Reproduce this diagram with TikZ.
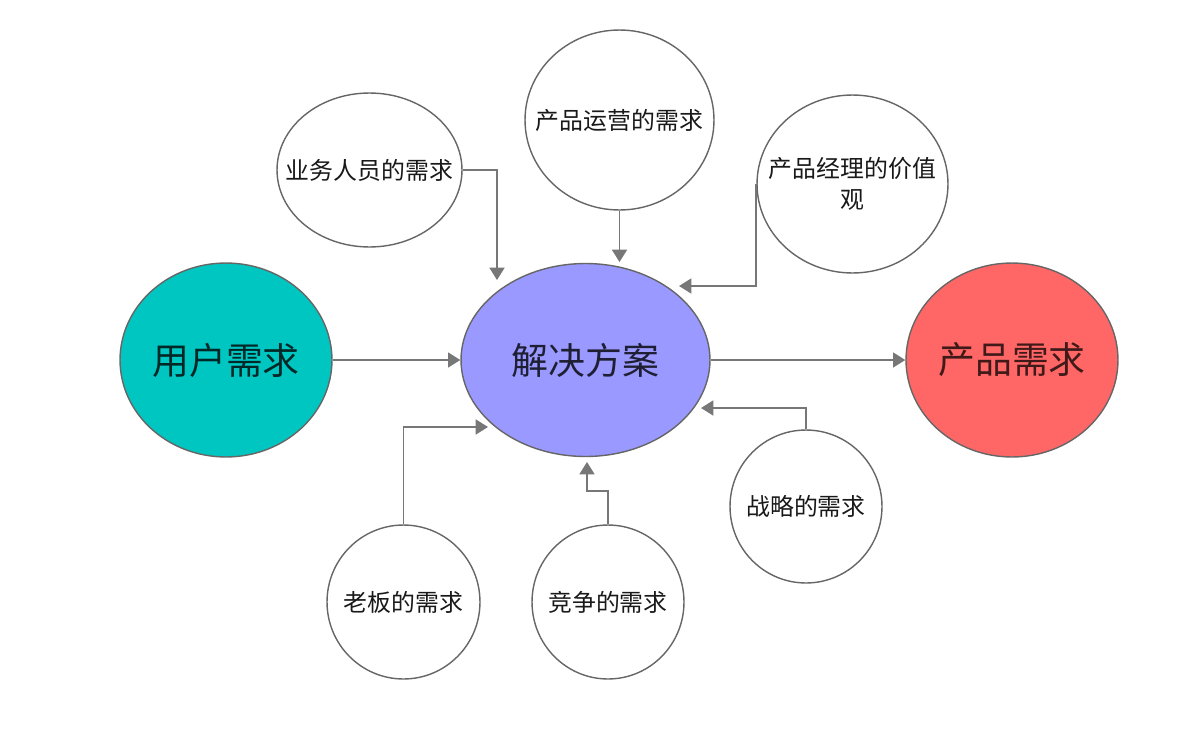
\documentclass[tikz,border=0pt]{standalone}
\usepackage{fontspec}
\setmainfont{Noto Sans CJK SC}
\usetikzlibrary{shapes.geometric,arrows.meta}

\definecolor{tealfill}{HTML}{00C6C2}
\definecolor{bluefill}{HTML}{9999FF}
\definecolor{redfill}{HTML}{FF6666}
\definecolor{linegray}{HTML}{777777}
\definecolor{rimgray}{HTML}{666666}

\tikzset{
  needtext/.style={align=center, text=black!90, inner sep=0pt, font=\fontsize{13.6pt}{18pt}\selectfont},
  need/.style={ellipse, draw=rimgray, line width=0.8pt, fill=white, inner sep=0pt,
    label={[needtext]center:#1}},
  core/.style={ellipse, draw=rimgray, line width=0.8pt, inner sep=0pt,
    font=\fontsize{21pt}{24pt}\selectfont},
  feed/.style={draw=linegray, line width=1pt, -{Triangle[length=7pt,width=8.5pt]}},
}

\begin{document}
\begin{tikzpicture}[x=0.02cm,y=-0.02cm]
\useasboundingbox (0,0) rectangle (1200,744);

% main chain
\node [core, fill=tealfill, text=black!80!tealfill, minimum width=4.24cm, minimum height=3.88cm] (yonghu) at (226,360) {用户需求};
\node [core, fill=bluefill, text=black!80!bluefill, minimum width=4.98cm, minimum height=3.86cm] (fangan) at (585.5,360) {解决方案};
\node [core, fill=redfill, text=black!75!redfill, minimum width=4.24cm, minimum height=3.88cm] (chanpin) at (1012,360) {产品需求};

% the needs round the solution
\node [need={业务人员的需求}, minimum width=3.70cm, minimum height=3.08cm] (yewu) at (369.5,170) {};
\node [need={产品运营的需求}, minimum width=3.78cm, minimum height=3.60cm] (yunying) at (619.5,120) {};
\node [need={产品经理的价值\\观}, minimum width=3.82cm, minimum height=3.56cm] (jingli) at (852.5,184) {};
\node [need={战略的需求}, minimum width=3.04cm, minimum height=3.06cm] (zhanlue) at (806,506.5) {};
\node [need={老板的需求}, minimum width=3.06cm, minimum height=3.08cm] (laoban) at (403.5,602) {};
\node [need={竞争的需求}, minimum width=3.04cm, minimum height=3.08cm] (jingzheng) at (608,602) {};

% arrow tips
\coordinate (tyewu) at (497,280);
\coordinate (tyunying) at (619.5,262);
\coordinate (tjingli) at (679,286);
\coordinate (tzhanlue) at (701,408);
\coordinate (tjingzheng) at (587,462);
\coordinate (tlaoban) at (488,427);

\begin{scope}[feed]
	\draw (yonghu) -- (fangan);
	\draw (fangan) -- (chanpin);
	\draw (yewu.east) -| (tyewu);
	\draw (yunying.south) -- (tyunying);
	\draw (jingli.west) |- (tjingli);
	\draw (zhanlue.north) |- (tzhanlue);
	\draw (jingzheng.north) -- ++(0,-33) -| (tjingzheng);
	\draw (laoban.north) |- (tlaoban);
\end{scope}
\end{tikzpicture}
\end{document}
